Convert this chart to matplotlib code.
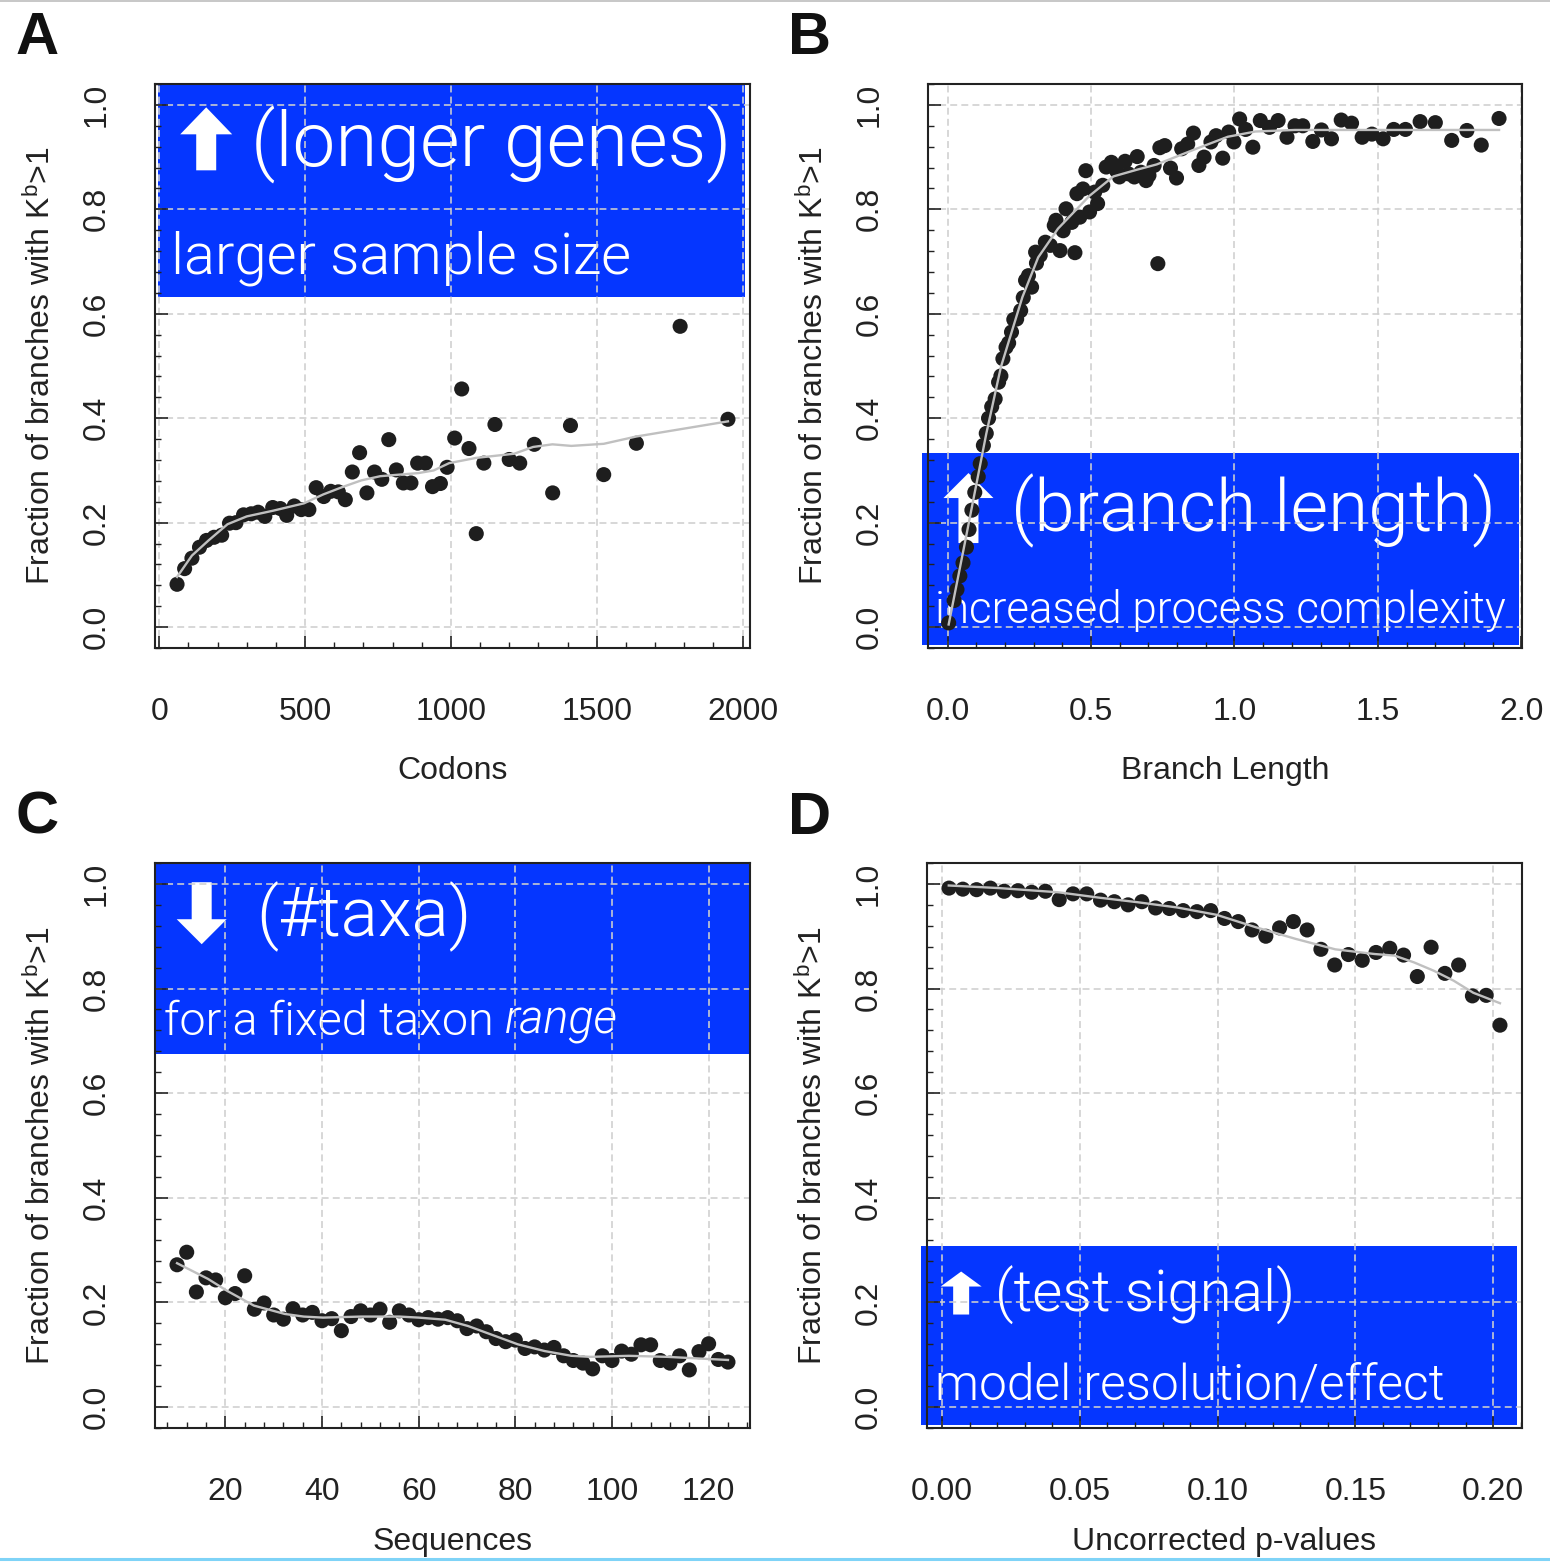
import numpy as np
import matplotlib
matplotlib.use("Agg")
import matplotlib.pyplot as plt
from matplotlib import font_manager as fm
from matplotlib.patches import Rectangle, Polygon
from matplotlib.transforms import ScaledTranslation
from matplotlib.ticker import MultipleLocator, FixedLocator, FixedFormatter
from matplotlib.lines import Line2D

# ---------------- data ----------------
# Panel A: Codons
codons = [61, 87, 112, 138, 162, 188, 214, 241, 263, 289, 315, 339, 362, 389, 415,
          437, 463, 487, 513, 538, 564, 588, 614, 638, 662, 687, 712, 738, 763, 787,
          813, 837, 863, 886, 913, 937, 964, 987, 1013, 1037, 1062, 1087, 1113, 1151,
          1200, 1236, 1286, 1349, 1410, 1524, 1636, 1786, 1950]
frac_codons = [0.082, 0.112, 0.132, 0.153, 0.166, 0.172, 0.176, 0.199, 0.200, 0.215,
               0.217, 0.220, 0.212, 0.229, 0.227, 0.214, 0.232, 0.225, 0.225, 0.267,
               0.250, 0.260, 0.259, 0.244, 0.297, 0.334, 0.257, 0.297, 0.283, 0.359,
               0.301, 0.276, 0.276, 0.314, 0.314, 0.269, 0.275, 0.306, 0.362, 0.456,
               0.342, 0.179, 0.314, 0.388, 0.321, 0.314, 0.350, 0.257, 0.386, 0.292,
               0.352, 0.576, 0.398]
trend_codons_x = [61, 112, 169, 234, 300, 391, 496, 562, 627, 693, 758, 889, 941, 994,
                  1086, 1217, 1282, 1348, 1413, 1524, 1636, 1950]
trend_codons_y = [0.096, 0.137, 0.166, 0.197, 0.212, 0.223, 0.237, 0.254, 0.268, 0.281,
                  0.289, 0.295, 0.300, 0.314, 0.324, 0.332, 0.345, 0.350, 0.347, 0.351,
                  0.365, 0.394]

# Panel B: Branch length
branch_len = [0.004, 0.023, 0.033, 0.043, 0.054, 0.066, 0.075, 0.085, 0.095, 0.107,
              0.114, 0.125, 0.135, 0.143, 0.154, 0.166, 0.178, 0.186, 0.193, 0.204,
              0.213, 0.223, 0.231, 0.241, 0.255, 0.264, 0.272, 0.282, 0.293, 0.307,
              0.310, 0.323, 0.341, 0.358, 0.372, 0.378, 0.392, 0.403, 0.413, 0.433,
              0.444, 0.451, 0.461, 0.472, 0.482, 0.495, 0.513, 0.523, 0.541, 0.553,
              0.571, 0.589, 0.599, 0.619, 0.630, 0.651, 0.661, 0.674, 0.692, 0.702,
              0.720, 0.733, 0.740, 0.757, 0.777, 0.798, 0.816, 0.837, 0.857, 0.876,
              0.894, 0.918, 0.936, 0.959, 0.980, 0.998, 1.018, 1.039, 1.064, 1.090,
              1.122, 1.152, 1.183, 1.211, 1.238, 1.273, 1.303, 1.338, 1.372, 1.408,
              1.445, 1.479, 1.518, 1.555, 1.596, 1.647, 1.700, 1.757, 1.810, 1.860,
              1.922]
frac_branch = [0.008, 0.051, 0.072, 0.098, 0.123, 0.153, 0.187, 0.224, 0.258, 0.288,
               0.313, 0.348, 0.371, 0.400, 0.422, 0.437, 0.469, 0.481, 0.514, 0.536,
               0.544, 0.565, 0.589, 0.590, 0.606, 0.631, 0.664, 0.673, 0.651, 0.718,
               0.697, 0.712, 0.737, 0.731, 0.769, 0.779, 0.721, 0.759, 0.801, 0.775,
               0.717, 0.830, 0.785, 0.839, 0.874, 0.795, 0.833, 0.811, 0.846, 0.881,
               0.890, 0.874, 0.862, 0.892, 0.868, 0.862, 0.901, 0.871, 0.855, 0.865,
               0.884, 0.696, 0.918, 0.922, 0.879, 0.860, 0.916, 0.925, 0.946, 0.884,
               0.900, 0.929, 0.941, 0.898, 0.948, 0.929, 0.973, 0.953, 0.919, 0.970,
               0.957, 0.970, 0.938, 0.960, 0.960, 0.930, 0.952, 0.935, 0.971, 0.965,
               0.938, 0.944, 0.935, 0.953, 0.953, 0.968, 0.966, 0.932, 0.951, 0.923,
               0.974]
trend_branch_x = [0.004, 0.06, 0.135, 0.186, 0.261, 0.316, 0.385, 0.495, 0.578, 0.661,
                  0.729, 0.798, 0.867, 0.977, 1.073, 1.211, 1.922]
trend_branch_y = [0.005, 0.16, 0.37, 0.498, 0.632, 0.708, 0.763, 0.826, 0.863, 0.876,
                  0.886, 0.901, 0.916, 0.939, 0.949, 0.952, 0.952]

# Panel C: Sequences
sequences = [10, 12, 14, 16, 18, 20, 22, 24, 26, 28, 30, 32, 34, 36, 38, 40, 42, 44,
             46, 48, 50, 52, 54, 56, 58, 60, 62, 64, 66, 68, 70, 72, 74, 76, 78, 80,
             82, 84, 86, 88, 90, 92, 94, 96, 98, 100, 102, 104, 106, 108, 110, 112,
             114, 116, 118, 120, 122, 124]
frac_seq = [0.272, 0.296, 0.220, 0.247, 0.243, 0.209, 0.217, 0.251, 0.187, 0.199,
            0.176, 0.168, 0.188, 0.176, 0.181, 0.165, 0.169, 0.146, 0.173, 0.184,
            0.176, 0.187, 0.162, 0.184, 0.176, 0.167, 0.171, 0.168, 0.171, 0.165,
            0.150, 0.155, 0.144, 0.131, 0.125, 0.128, 0.112, 0.115, 0.109, 0.114,
            0.098, 0.089, 0.084, 0.073, 0.098, 0.089, 0.107, 0.101, 0.119, 0.119,
            0.089, 0.084, 0.098, 0.071, 0.106, 0.121, 0.091, 0.086]
trend_seq_x = [10.0, 16.4, 20.4, 25.9, 32.3, 36.2, 40.2, 48.1, 56.0, 60.0, 65.5, 70.2,
               75.8, 80.5, 86.1, 91.6, 95.6, 103.5, 111.4, 124.0]
trend_seq_y = [0.275, 0.245, 0.222, 0.194, 0.178, 0.173, 0.171, 0.173, 0.173, 0.171,
               0.167, 0.155, 0.136, 0.120, 0.107, 0.098, 0.096, 0.098, 0.096, 0.090]

# Panel D: Uncorrected p-values
pvalues = [0.0025, 0.0075, 0.0125, 0.0175, 0.0225, 0.0275, 0.0325, 0.0375, 0.0425,
           0.0475, 0.0525, 0.0575, 0.0625, 0.0675, 0.0725, 0.0775, 0.0825, 0.0875,
           0.0925, 0.0975, 0.1025, 0.1075, 0.1125, 0.1175, 0.1225, 0.1275, 0.1325,
           0.1375, 0.1425, 0.1475, 0.1525, 0.1575, 0.1625, 0.1675, 0.1725, 0.1775,
           0.1825, 0.1875, 0.1925, 0.1975, 0.2025]
frac_pval = [0.992, 0.990, 0.989, 0.992, 0.986, 0.987, 0.984, 0.986, 0.970, 0.981,
             0.981, 0.969, 0.966, 0.960, 0.966, 0.954, 0.953, 0.949, 0.947, 0.949,
             0.934, 0.928, 0.912, 0.900, 0.916, 0.928, 0.912, 0.875, 0.845, 0.865,
             0.854, 0.869, 0.877, 0.864, 0.823, 0.879, 0.829, 0.845, 0.786, 0.787,
             0.730]
trend_pval_x = [0.0024, 0.0208, 0.0423, 0.0566, 0.0710, 0.0853, 0.0996, 0.1140, 0.1283,
                0.1427, 0.1570, 0.1642, 0.1713, 0.1785, 0.1857, 0.1928, 0.2025]
trend_pval_y = [0.997, 0.992, 0.984, 0.974, 0.965, 0.955, 0.941, 0.917, 0.895, 0.875,
                0.866, 0.863, 0.850, 0.834, 0.815, 0.792, 0.772]

# tick labels
ticks_codons = [0, 500, 1000, 1500, 2000]
ticks_branch = [0.0, 0.5, 1.0, 1.5, 2.0]
ticks_seq = [20, 40, 60, 80, 100, 120]
ticks_pval = [0.00, 0.05, 0.10, 0.15, 0.20]
labels_codons = ["0", "500", "1000", "1500", "2000"]
labels_branch = ["0.0", "0.5", "1.0", "1.5", "2.0"]
labels_seq = ["20", "40", "60", "80", "100", "120"]
labels_pval = ["0.00", "0.05", "0.10", "0.15", "0.20"]
yticks = [0.0, 0.2, 0.4, 0.6, 0.8, 1.0]
ylabels = ["0.0", "0.2", "0.4", "0.6", "0.8", "1.0"]

# ---------------- styling ----------------
plt.rcParams.update({
    "font.family": ["Liberation Sans", "DejaVu Sans"],
    "mathtext.fontset": "custom",
    "mathtext.rm": "Liberation Sans",
    "mathtext.it": "Liberation Sans:italic",
    "lines.scale_dashes": False,
})

BLUE = "#0536FF"
DOT = "#1e1e1e"
TREND = "#c0c0c0"
GRID = "#cfcfcf"
AXC = "#222222"


def find_font(families, italic=False):
    for fam in families:
        cands = []
        for f in fm.fontManager.ttflist:
            if f.name != fam:
                continue
            w = f.weight
            try:
                w = int(w)
            except (TypeError, ValueError):
                w = {"ultralight": 200, "light": 300, "normal": 400, "regular": 400,
                     "book": 400}.get(str(w).lower(), 400)
            is_it = f.style in ("italic", "oblique")
            if is_it != italic:
                continue
            cands.append((abs(w - 300), f.fname))
        if cands:
            cands.sort()
            if cands[0][0] <= 0:
                return fm.FontProperties(fname=cands[0][1])
    for fam in families:
        for f in fm.fontManager.ttflist:
            if f.name == fam and (f.style in ("italic", "oblique")) == italic:
                return fm.FontProperties(fname=f.fname)
    return fm.FontProperties(family="DejaVu Sans", style="italic" if italic else "normal")


LIGHT_FAMS = ["Roboto", "Lato", "Open Sans", "Inter", "Noto Sans"]
fp_light = find_font(LIGHT_FAMS)
fp_light_it = find_font(LIGHT_FAMS, italic=True)

W, H = 1550, 1562
fig = plt.figure(figsize=(W / 100, H / 100), dpi=100)


def ax_rect(l, t, r, b):
    return [l / W, 1 - b / H, (r - l) / W, (b - t) / H]


panels = [
    dict(rect=ax_rect(155, 84, 750, 648), x=codons, y=frac_codons,
         tx=trend_codons_x, ty=trend_codons_y, xlim=(-14.6, 2025.6),
         xt=ticks_codons, xl=labels_codons, minor=100, xlabel="Codons", letter="A",
         lpos=(37, 38), xpad=21),
    dict(rect=ax_rect(928, 84, 1522, 648), x=branch_len, y=frac_branch,
         tx=trend_branch_x, ty=trend_branch_y, xlim=(-0.068, 2.002),
         xt=ticks_branch, xl=labels_branch, minor=0.1, xlabel="Branch Length",
         letter="B", lpos=(810, 38), xpad=21),
    dict(rect=ax_rect(155, 863, 750, 1428), x=sequences, y=frac_seq,
         tx=trend_seq_x, ty=trend_seq_y, xlim=(5.44, 128.56),
         xt=ticks_seq, xl=labels_seq, minor=4, xlabel="Sequences", letter="C",
         lpos=(37, 818), xpad=15),
    dict(rect=ax_rect(927, 863, 1522, 1428), x=pvalues, y=frac_pval,
         tx=trend_pval_x, ty=trend_pval_y, xlim=(-0.0055, 0.2105),
         xt=ticks_pval, xl=labels_pval, minor=0.01, xlabel="Uncorrected p-values",
         letter="D", lpos=(810, 818), xpad=15),
]

axes = []
for p in panels:
    ax = fig.add_axes(p["rect"])
    axes.append(ax)
    ax.set_xlim(*p["xlim"])
    ax.set_ylim(-0.04, 1.04)
    ax.xaxis.set_major_locator(FixedLocator(p["xt"]))
    ax.xaxis.set_major_formatter(FixedFormatter(p["xl"]))
    ax.xaxis.set_minor_locator(MultipleLocator(p["minor"]))
    ax.yaxis.set_major_locator(FixedLocator(yticks))
    ax.yaxis.set_major_formatter(FixedFormatter(ylabels))
    ax.yaxis.set_minor_locator(MultipleLocator(0.04))
    ax.tick_params(which="both", direction="in", color=AXC, top=False, right=False)
    ax.tick_params(which="major", length=9, width=1.2, labelsize=23, labelcolor="#222222")
    ax.tick_params(which="minor", length=4.5, width=1.0)
    ax.tick_params(axis="x", which="major", pad=35)
    ax.tick_params(axis="y", which="major", pad=31, labelrotation=90)
    for lab in ax.get_yticklabels():
        lab.set_va("center")
    for s in ax.spines.values():
        s.set_linewidth(1.5)
        s.set_color(AXC)
    ax.set_axisbelow(True)
    ax.grid(True, which="major", color=GRID, linestyle=(0, (5, 3)), linewidth=1.15)
    ax.scatter(p["x"], p["y"], s=118, color=DOT, edgecolors="none", zorder=3)
    ax.plot(p["tx"], p["ty"], color=TREND, lw=1.7, zorder=4)
    ax.set_xlabel(p["xlabel"], fontsize=23, labelpad=p["xpad"], color="#222222")
    ax.set_ylabel("Fraction of branches with K$^{\\mathrm{b}}$>1", fontsize=23,
                  labelpad=18, color="#222222")
    fig.text(p["lpos"][0] / W, 1 - p["lpos"][1] / H, p["letter"], ha="center",
             va="center", fontsize=43, fontweight="bold", color="#111111")

axA, axB, axC, axD = axes


def blue_box(ax, x0, x1, y0, y1):
    ax.add_patch(Rectangle((x0, y0), x1 - x0, y1 - y0, facecolor=BLUE,
                           edgecolor="none", zorder=0.1, clip_on=False))


def arrow(ax, cx, cy, h, w, s, hl, up=True):
    h, w, s, hl = h / 100, w / 100, s / 100, hl / 100
    v = [(0, h / 2), (w / 2, h / 2 - hl), (s / 2, h / 2 - hl), (s / 2, -h / 2),
         (-s / 2, -h / 2), (-s / 2, h / 2 - hl), (-w / 2, h / 2 - hl)]
    if not up:
        v = [(a, -b) for a, b in v]
    trans = fig.dpi_scale_trans + ScaledTranslation(cx, cy, ax.transData)
    ax.add_patch(Polygon(v, closed=True, transform=trans, facecolor="white",
                         edgecolor="none", zorder=0.3, clip_on=False))


fit_list = []


def label(ax, x, y, s, width_px, fp=None):
    t = ax.text(x, y, s, fontproperties=fp if fp is not None else fp_light,
                fontsize=40, color="white", ha="left", va="center", zorder=0.3)
    fit_list.append(([t], width_px))
    return t


# Panel A annotation
blue_box(axA, -3.4, 2009, 0.633, 1.04)
arrow(axA, 161, 0.935, 63, 52, 20, 27, up=True)
label(axA, 315, 0.924, "(longer genes)", 480)
label(axA, 41, 0.706, "larger sample size", 460)

# Panel B annotation
blue_box(axB, -0.09, 1.99, -0.034, 0.333)
arrow(axB, 0.073, 0.228, 70, 50, 20, 25, up=True)
label(axB, 0.220, 0.222, "(branch length)", 485)
label(axB, -0.042, 0.031, "increased process complexity", 570)

# Panel C annotation
blue_box(axC, 5.44, 128.56, 0.674, 1.04)
arrow(axC, 15.1, 0.944, 62, 50, 20, 25, up=False)
label(axC, 26.4, 0.938, "(#taxa)", 215)
tc1 = axC.text(7.3, 0.737, "for a fixed taxon ", fontproperties=fp_light, fontsize=40,
               color="white", ha="left", va="center", zorder=0.3)
tc2 = axC.annotate("range", xy=(1, 0), xycoords=tc1, fontproperties=fp_light_it,
                   fontsize=40, color="white", ha="left", va="bottom", zorder=0.3)
fit_list.append(([tc1, tc2], 455))

# Panel D annotation
blue_box(axD, -0.0076, 0.2087, -0.034, 0.308)
arrow(axD, 0.0069, 0.218, 43, 41, 16, 15, up=True)
label(axD, 0.0192, 0.214, "(test signal)", 300)
label(axD, -0.0025, 0.040, "model resolution/effect", 510)

# fit annotation text widths to the reference
fig.canvas.draw()
r = fig.canvas.get_renderer()
for texts, target in fit_list:
    wsum = sum(t.get_window_extent(r).width for t in texts)
    k = target / wsum
    for t in texts:
        t.set_fontsize(t.get_fontsize() * k)

# page decoration lines
fig.add_artist(Line2D([0, 1], [1 - 1.0 / H, 1 - 1.0 / H], color="#bdbdbd", lw=1.2,
                      transform=fig.transFigure))
fig.add_artist(Line2D([0, 1], [3.0 / H, 3.0 / H], color="#7fd3f7", lw=2.2,
                      transform=fig.transFigure))

fig.savefig("out.png", dpi=100, facecolor="white")
